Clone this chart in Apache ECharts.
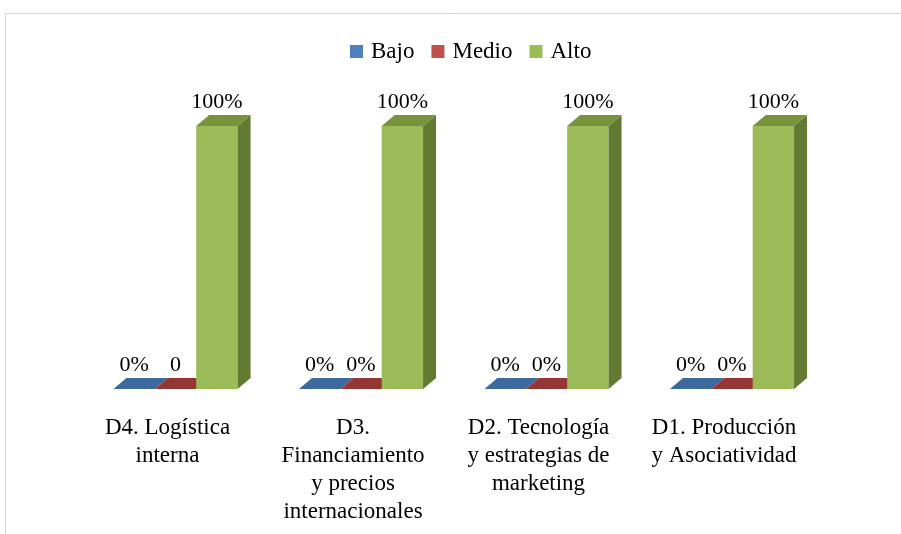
<!DOCTYPE html>
<html>
<head>
<meta charset="utf-8">
<script src="https://cdn.jsdelivr.net/npm/echarts@6/dist/echarts.min.js"></script>
<style>html,body{margin:0;padding:0;background:#fff}#c{width:901px;height:534px}</style>
</head>
<body>
<div id="c"></div>
<script>
var categories = ['D4. Logística\ninterna', 'D3.\nFinanciamiento\ny precios\ninternacionales', 'D2. Tecnología\ny estrategias de\nmarketing', 'D1. Producción\ny Asociatividad'];
var seriesNames = ['Bajo', 'Medio', 'Alto'];
var bajo = [0, 0, 0, 0];
var medio = [0, 0, 0, 0];
var alto = [100, 100, 100, 100];
var bajoLabels = ['0%', '0%', '0%', '0%'];
var medioLabels = ['0', '0%', '0%', '0%'];
var altoLabels = ['100%', '100%', '100%', '100%'];

var FONT = '"Liberation Serif", "Times New Roman", serif';
var palette = [
  {front: '#4F81BD', top: '#3D6A9E', side: '#2E5280'},
  {front: '#C0504D', top: '#933634', side: '#7A2C2A'},
  {front: '#9BBB59', top: '#77933C', side: '#637A33'}
];
var DX = 13, DY = -11, SHIFT = 8, BAR_RATIO = 0.669;

function makeRender(s, labels) {
  return function (params, api) {
    var i = api.value(0), v = api.value(1);
    var base = api.coord([i, 0]);
    var topP = api.coord([i, v]);
    var band = api.size([1, 0])[0];
    var w = band * BAR_RATIO / 3;
    var x0 = base[0] - 1.5 * w + s * w + SHIFT;
    var y0 = base[1], yt = topP[1];
    var c = palette[s];
    var children = [];
    if (y0 - yt > 0) {
      children.push({type: 'rect', shape: {x: x0, y: yt, width: w, height: y0 - yt}, style: {fill: c.front}});
      children.push({type: 'polygon', shape: {points: [[x0 + w, yt], [x0 + w + DX, yt + DY], [x0 + w + DX, y0 + DY], [x0 + w, y0]]}, style: {fill: c.side}});
    }
    children.push({type: 'polygon', shape: {points: [[x0, yt], [x0 + w, yt], [x0 + w + DX, yt + DY], [x0 + DX, yt + DY]]}, style: {fill: c.top}});
    children.push({type: 'text', style: {text: labels[i], x: x0 + w / 2, y: yt + DY - 2, align: 'center', verticalAlign: 'bottom', fill: '#000', font: '22px ' + FONT}});
    return {type: 'group', children: children};
  };
}

function mk(s, vals, labels) {
  return {
    type: 'custom',
    name: seriesNames[s],
    itemStyle: {color: palette[s].front},
    renderItem: makeRender(s, labels),
    data: vals.map(function (v, i) { return [i, v]; }),
    encode: {x: 0, y: 1},
    z: 2 + s
  };
}

var chart = echarts.init(document.getElementById('c'), null, {renderer: 'canvas'});
chart.setOption({
  animation: false,
  backgroundColor: '#fff',
  textStyle: {fontFamily: FONT},
  graphic: [{type: 'rect', shape: {x: 5.5, y: 13.5, width: 1000, height: 1000}, style: {fill: 'none', stroke: '#D4D4D4', lineWidth: 1}, silent: true}],
  legend: {
    top: 35, left: 345,
    icon: 'rect', itemWidth: 13, itemHeight: 13, itemGap: 17,
    data: seriesNames,
    textStyle: {fontFamily: FONT, fontSize: 23, color: '#000', padding: [0, 0, 0, 3]}
  },
  grid: {left: 74.75, right: 84.25, top: 126, bottom: 145},
  xAxis: {
    type: 'category', data: categories,
    axisLine: {show: false}, axisTick: {show: false}, splitLine: {show: false},
    axisLabel: {interval: 0, margin: 25, fontFamily: FONT, fontSize: 23, lineHeight: 28, color: '#000', align: 'center'}
  },
  yAxis: {type: 'value', min: 0, max: 100, show: false, splitLine: {show: false}},
  series: [mk(0, bajo, bajoLabels), mk(1, medio, medioLabels), mk(2, alto, altoLabels)]
});
</script>
</body>
</html>
